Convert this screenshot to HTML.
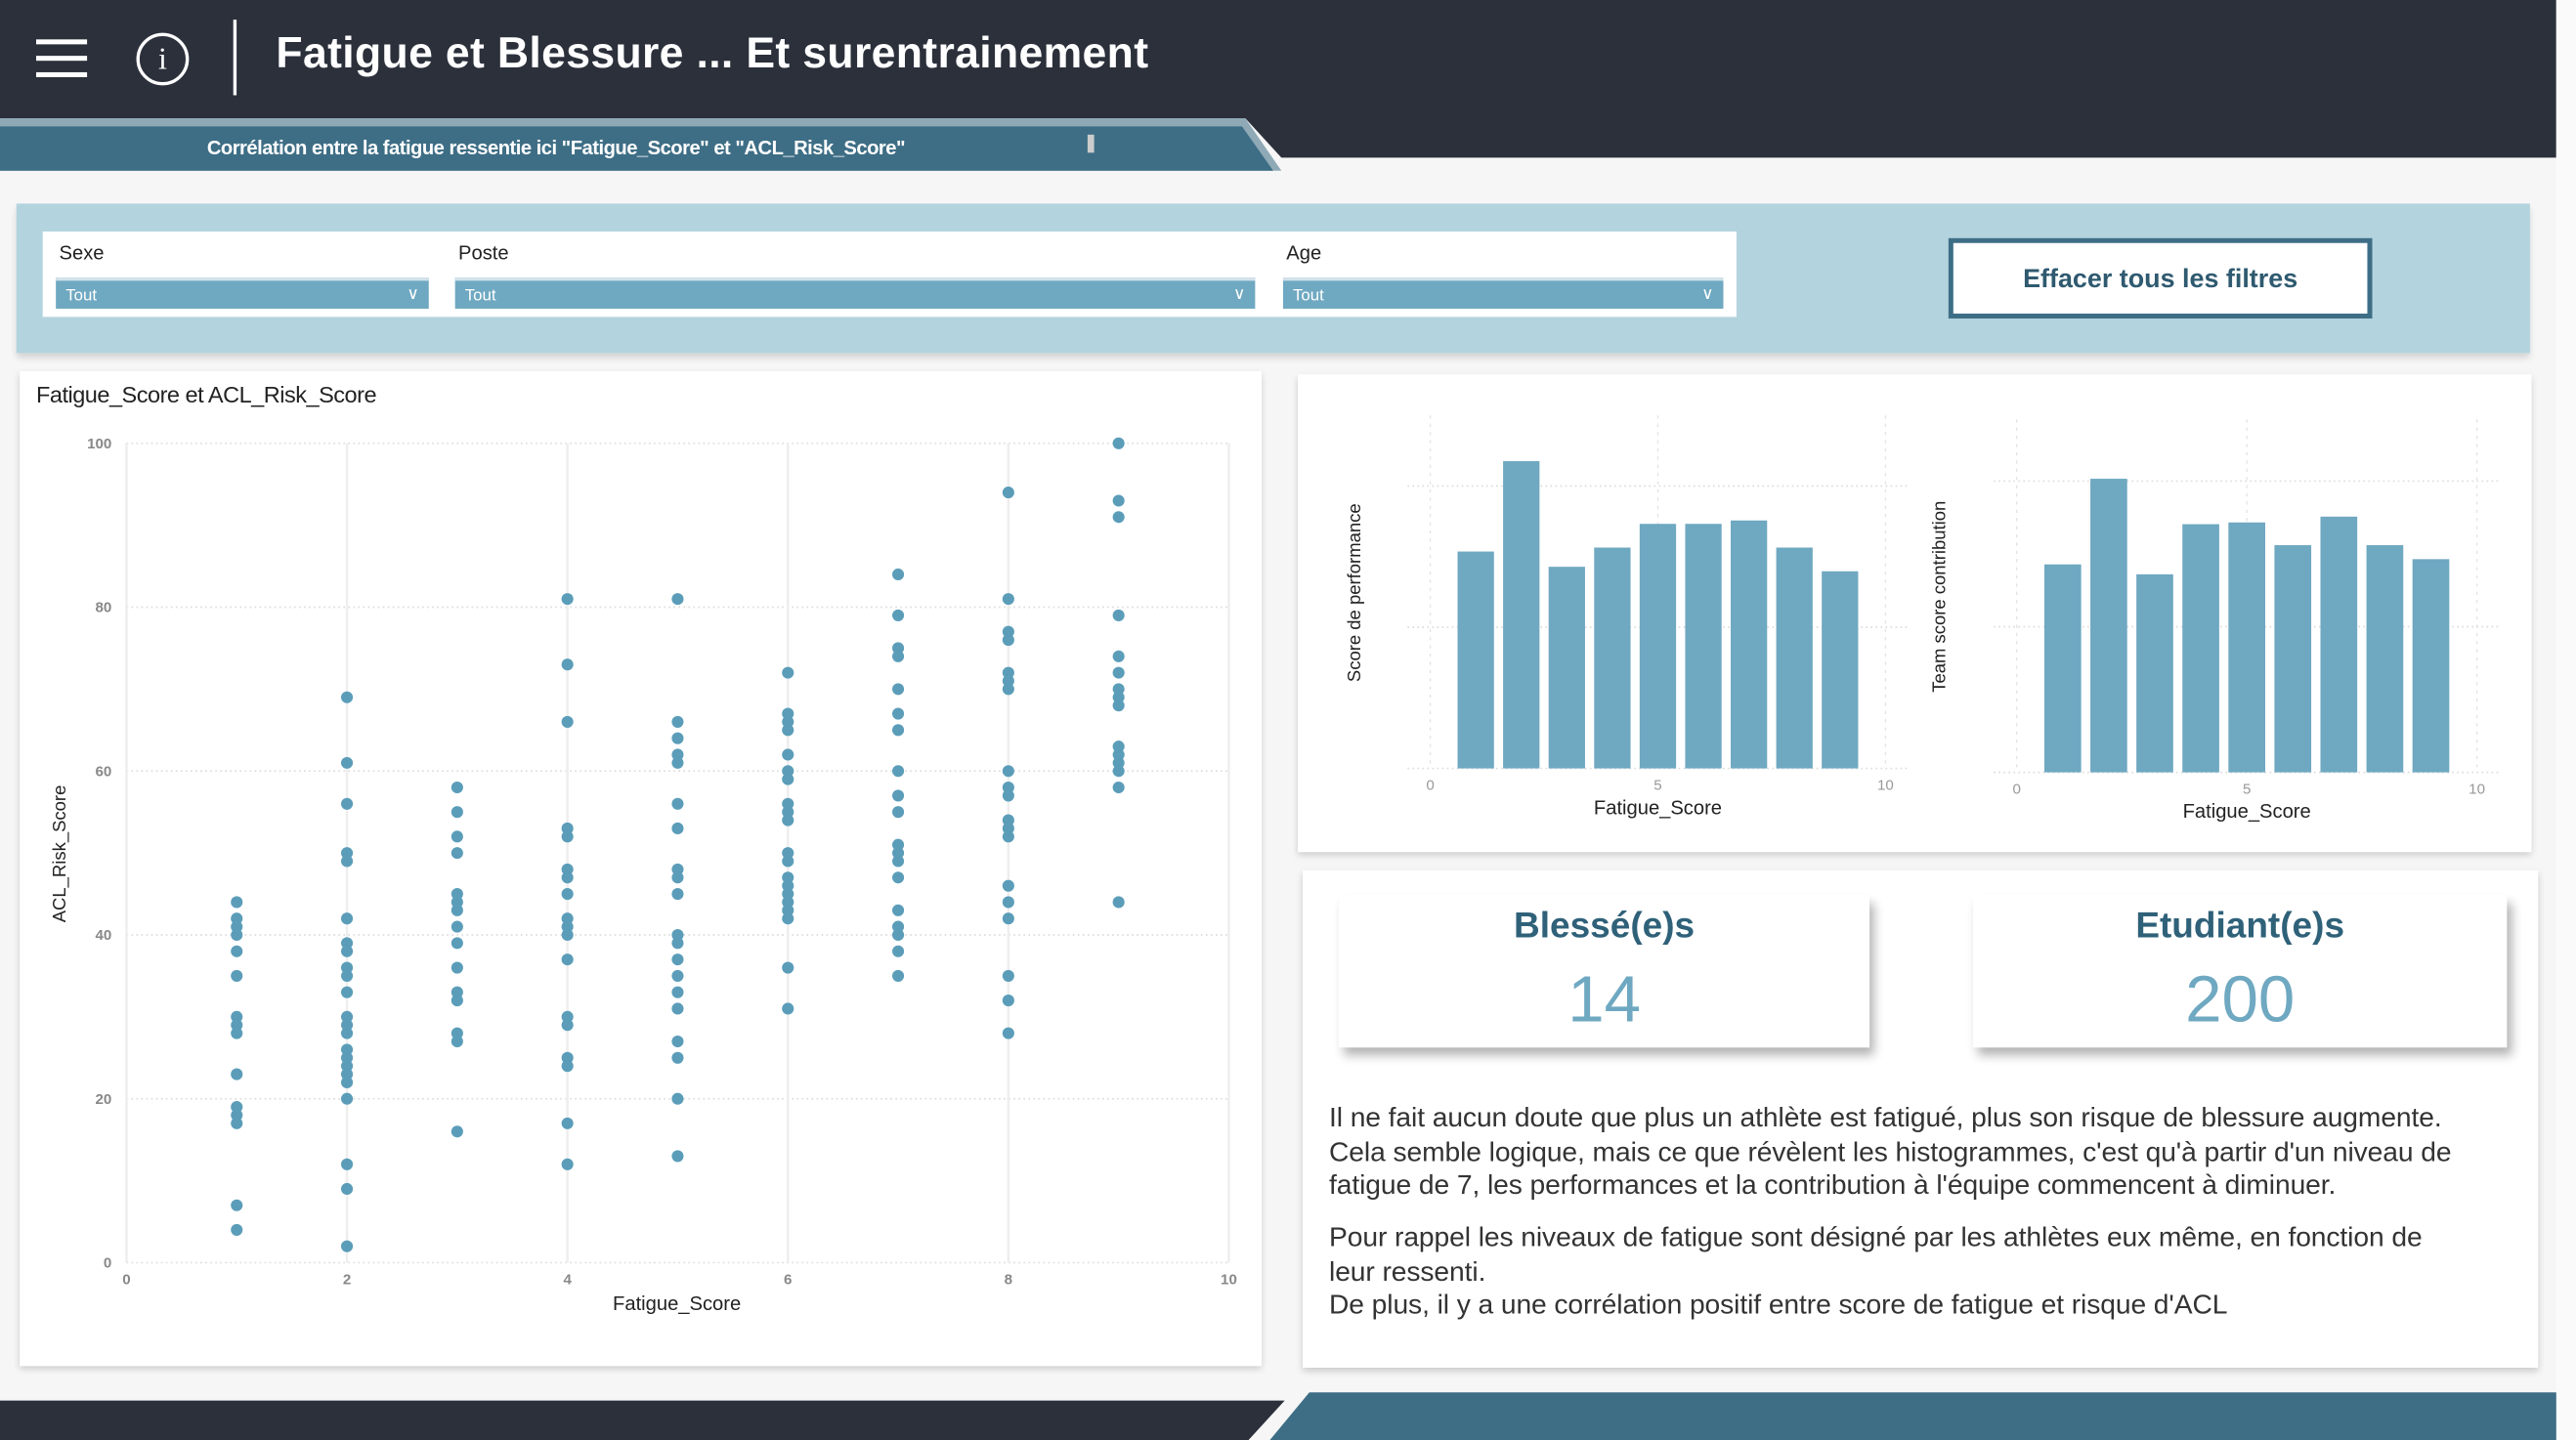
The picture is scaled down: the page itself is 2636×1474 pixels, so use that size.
<!DOCTYPE html>
<html><head><meta charset="utf-8">
<style>
html,body{margin:0;padding:0;width:2636px;height:1474px;overflow:hidden;background:#f6f6f6;}
#root{position:absolute;left:0;top:0;width:1568px;height:877px;transform:scale(1.6811,1.6807);transform-origin:0 0;font-family:"Liberation Sans",sans-serif;background:#f6f6f6;}
.abs{position:absolute;}
.card{position:absolute;background:#fff;box-shadow:0 2px 4px rgba(0,0,0,0.18);}
.dd{position:absolute;top:169px;height:19px;background:#6fa8c1;color:#fff;font-size:10px;line-height:19px;padding-left:6px;box-sizing:border-box;border-top:2px solid #d2e2ea;}
.dd span.ch{position:absolute;right:6px;top:-1px;font-size:10px;}
.lbl{position:absolute;top:147px;font-size:12px;color:#222;}
.txt{font-size:16.8px;color:#333;line-height:20.5px;letter-spacing:-0.05px;white-space:nowrap;}
</style></head>
<body>
<div id="root">
  <svg class="abs" style="left:0;top:0" width="1568" height="877">
    <polygon points="0,0 1556,0 1556,96 780,96 758,72 0,72" fill="#2b303b"/>
    <polygon points="0,72 758,72 780,104 0,104" fill="#8fa9b6"/>
    <polygon points="0,77 756,77 775,104 0,104" fill="#3e6e86"/>
    <rect x="1556" y="0" width="12" height="877" fill="#fafafa"/>
    <polygon points="0,853 782,853 760,877 0,877" fill="#2b303b"/>
    <polygon points="797,848 1556,848 1556,877 773,877" fill="#3e6e86"/>
  </svg>
  <div class="abs" style="left:22px;top:24px;width:31px;">
    <div style="height:3px;background:#fff;margin-bottom:7px"></div>
    <div style="height:3px;background:#fff;margin-bottom:7px"></div>
    <div style="height:3px;background:#fff"></div>
  </div>
  <div class="abs" style="left:83px;top:20px;width:28px;height:28px;border:2.5px solid #fff;border-radius:50%;color:#fff;font-size:19px;text-align:center;line-height:29px;font-family:'Liberation Serif',serif;">i</div>
  <div class="abs" style="left:142px;top:12px;width:2px;height:46px;background:#fff"></div>
  <div class="abs" style="left:168px;top:17px;color:#fff;font-size:26.5px;font-weight:bold;letter-spacing:0.2px;">Fatigue et Blessure ... Et surentrainement</div>
  <div class="abs" style="left:126px;top:83px;color:#fff;font-size:12px;font-weight:bold;letter-spacing:-0.3px;">Corrélation entre la fatigue ressentie ici "Fatigue_Score" et "ACL_Risk_Score"</div>
  <div class="abs" style="left:662px;top:82px;width:4px;height:11px;background:#ccc"></div>

  <div class="abs" style="left:10px;top:124px;width:1530px;height:91px;background:#b3d4df;box-shadow:0 3px 4px rgba(0,0,0,0.15)"></div>
  <div class="abs" style="left:26px;top:141px;width:1031px;height:52px;background:#fff"></div>
  <div class="lbl" style="left:36px">Sexe</div>
  <div class="lbl" style="left:279px">Poste</div>
  <div class="lbl" style="left:783px">Age</div>
  <div class="dd" style="left:34px;width:227px">Tout<span class="ch">&#8744;</span></div>
  <div class="dd" style="left:277px;width:487px">Tout<span class="ch">&#8744;</span></div>
  <div class="dd" style="left:781px;width:268px">Tout<span class="ch">&#8744;</span></div>
  <div class="abs" style="left:1186px;top:145px;width:258px;height:49px;box-sizing:border-box;border:3px solid #3e6e86;background:#fff;color:#2f5a70;font-size:16px;font-weight:bold;text-align:center;line-height:45px;">Effacer tous les filtres</div>

  <div class="card" style="left:12px;top:226px;width:756px;height:606px"></div>
  <div class="abs" style="left:22px;top:232px;font-size:14px;color:#222;letter-spacing:-0.3px">Fatigue_Score et ACL_Risk_Score</div>
  <svg id="scatter" class="abs" style="left:0;top:0" width="1568" height="877"></svg>

  <div class="card" style="left:790px;top:228px;width:751px;height:291px"></div>
  <svg id="bars" class="abs" style="left:0;top:0" width="1568" height="877"></svg>

  <div class="card" style="left:793px;top:530px;width:752px;height:303px"></div>
  <div class="card" style="left:815px;top:545px;width:323px;height:93px;box-shadow:3px 5px 6px rgba(0,0,0,0.3)">
    <div style="text-align:center;margin-top:6px;font-size:22px;font-weight:bold;color:#2f6179">Blessé(e)s</div>
    <div style="text-align:center;margin-top:10px;font-size:40px;color:#6fa8c1">14</div>
  </div>
  <div class="card" style="left:1201px;top:545px;width:325px;height:93px;box-shadow:3px 5px 6px rgba(0,0,0,0.3)">
    <div style="text-align:center;margin-top:6px;font-size:22px;font-weight:bold;color:#2f6179">Etudiant(e)s</div>
    <div style="text-align:center;margin-top:10px;font-size:40px;color:#6fa8c1">200</div>
  </div>
  <div class="abs txt" style="left:809px;top:671px">Il ne fait aucun doute que plus un athlète est fatigué, plus son risque de blessure augmente.<br>Cela semble logique, mais ce que révèlent les histogrammes, c'est qu'à partir d'un niveau de<br>fatigue de 7, les performances et la contribution à l'équipe commencent à diminuer.</div>
  <div class="abs txt" style="left:809px;top:744px">Pour rappel les niveaux de fatigue sont désigné par les athlètes eux même, en fonction de<br>leur ressenti.<br>De plus, il y a une corrélation positif entre score de fatigue et risque d'ACL</div>
</div>
<script>
const scatterX = [1,1,1,1,1,1,1,1,1,1,1,1,1,1,1,
2,2,2,2,2,2,2,2,2,2,2,2,2,2,2,2,2,2,2,2,2,2,2,
3,3,3,3,3,3,3,3,3,3,3,3,3,3,3,
4,4,4,4,4,4,4,4,4,4,4,4,4,4,4,4,4,4,
5,5,5,5,5,5,5,5,5,5,5,5,5,5,5,5,5,5,5,5,
6,6,6,6,6,6,6,6,6,6,6,6,6,6,6,6,6,6,6,6,
7,7,7,7,7,7,7,7,7,7,7,7,7,7,7,7,7,7,7,
8,8,8,8,8,8,8,8,8,8,8,8,8,8,8,8,8,8,8,
9,9,9,9,9,9,9,9,9,9,9,9,9,9,9];
const scatterY = [44,42,41,40,38,35,30,29,28,23,19,18,17,7,4,
69,61,56,50,49,42,39,38,36,35,33,30,29,28,26,25,24,23,22,20,12,9,2,
58,55,52,50,45,44,43,41,39,36,33,32,28,27,16,
81,73,66,53,52,48,47,45,42,41,40,37,30,29,25,24,17,12,
81,66,64,62,61,56,53,48,47,45,40,39,37,35,33,31,27,25,20,13,
72,67,66,65,62,60,59,56,55,54,50,49,47,46,45,44,43,42,36,31,
84,79,75,74,70,67,65,60,57,55,51,50,49,47,43,41,40,38,35,
94,81,77,76,72,71,70,60,58,57,54,53,52,46,44,42,35,32,28,
100,93,91,79,74,72,70,69,68,63,62,61,60,58,44];
const xTicks = [0,2,4,6,8,10];
const yTicks = [0,20,40,60,80,100];
const histCategories = [1,2,3,4,5,6,7,8,9];
const perfValues = [38.4,54.4,35.7,39.1,43.3,43.3,43.9,39.1,34.9];
const teamValues = [35.7,50.4,34.0,42.6,42.9,39.0,43.9,39.0,36.6];
const histTicks = [0,5,10];

const NS='http://www.w3.org/2000/svg';
function mk(parent,tag,attrs){const e=document.createElementNS(NS,tag);for(const k in attrs)e.setAttribute(k,attrs[k]);parent.appendChild(e);return e;}

(function(){
  const svg=document.getElementById('scatter');
  const sx=v=>77+(748-77)*v/10, sy=v=>769-(769-270)*v/100;
  yTicks.forEach(t=>{
    const l=mk(svg,'line',{x1:sx(0),x2:sx(10),y1:sy(t),y2:sy(t),stroke:'#ddd','stroke-dasharray':'1,2','stroke-width':1});
    
    
    const tx=mk(svg,'text',{x:68,y:sy(t)+3,'text-anchor':'end','font-size':9,fill:'#888','font-weight':'bold'});
    tx.textContent=t;
    
    
  });
  xTicks.forEach(t=>{
    const l=mk(svg,'line',{x1:sx(t),x2:sx(t),y1:sy(100),y2:sy(0),stroke:'#eee','stroke-width':1.5});
    
    
    const tx=mk(svg,'text',{x:sx(t),y:782,'text-anchor':'middle','font-size':9,fill:'#888','font-weight':'bold'});
    tx.textContent=t;
    
    
  });
  scatterX.forEach((x,i)=>{
    const c=mk(svg,'circle',{cx:sx(x),cy:sy(scatterY[i]),r:3.6,fill:'#5b9db9'});
    
    
  });
  const xt=mk(svg,'text',{x:412,y:798,'text-anchor':'middle','font-size':12,fill:'#222'});
  xt.textContent='Fatigue_Score';
  
  
  const yt=mk(svg,'text',{x:0,y:0,'text-anchor':'middle','font-size':11,fill:'#222',transform:'translate(40,520) rotate(-90)'});
  yt.textContent='ACL_Risk_Score';
  
  
})();

function hist(svg,vals,x0,x10,base,gridTop,title,titleX,xtitleY,name){
  const sx=v=>x0+(x10-x0)*v/10;
  const sy=v=>base-(base-gridTop)*v/50;
  [0,25,50].forEach(t=>{
    const l=mk(svg,'line',{x1:sx(-0.5),x2:sx(10.5),y1:sy(t),y2:sy(t),stroke:'#ddd','stroke-dasharray':'1,2','stroke-width':1});
    
    
  });
  histTicks.forEach(t=>{
    const l=mk(svg,'line',{x1:sx(t),x2:sx(t),y1:base-215,y2:base,stroke:'#e4e4e4','stroke-dasharray':'2,3','stroke-width':0.8});
    
    
    const tx=mk(svg,'text',{x:sx(t),y:base+13,'text-anchor':'middle','font-size':9,fill:'#999'});
    tx.textContent=t;
    
    
  });
  histCategories.forEach((c,i)=>{
    const w=(x10-x0)*0.08;
    const r=mk(svg,'rect',{x:sx(c)-w/2,y:sy(vals[i]),width:w,height:base-sy(vals[i]),fill:'#6fa8c1'});
    
    
  });
  const xt=mk(svg,'text',{x:sx(5),y:xtitleY,'text-anchor':'middle','font-size':12,fill:'#222'});
  xt.textContent='Fatigue_Score';
  
  
  const yt=mk(svg,'text',{x:0,y:0,'text-anchor':'middle','font-size':11,fill:'#222',transform:'translate('+titleX+','+(base-107)+') rotate(-90)'});
  yt.textContent=title;
  
  
}
const bsvg=document.getElementById('bars');
hist(bsvg,perfValues,870.6,1147.7,468,296,'Score de performance',828,496,'performance');
hist(bsvg,teamValues,1227.6,1507.7,470.4,293,'Team score contribution',1184,498,'team-contribution');
</script>
</body></html>
